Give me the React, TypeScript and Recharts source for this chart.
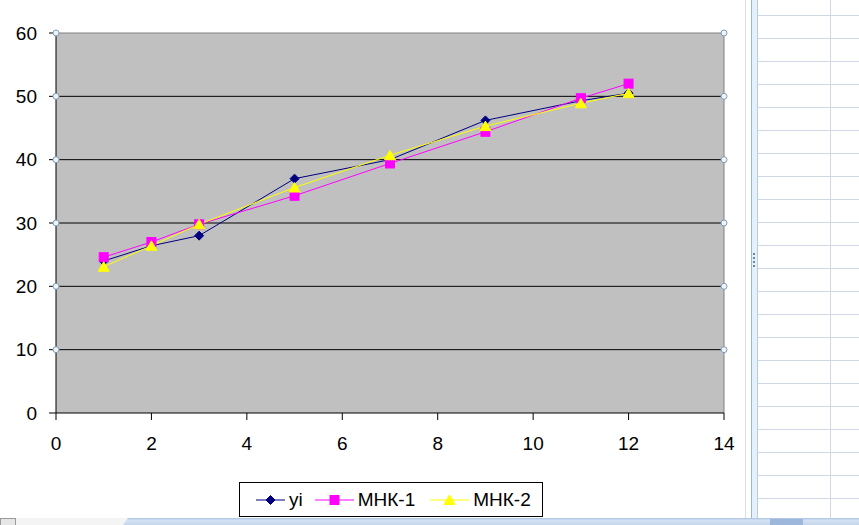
import { LineChart, Line, XAxis, YAxis, CartesianGrid, ReferenceLine, ReferenceDot } from "recharts";

const X_VALUES = [1, 2, 3, 5, 7, 9, 11, 12];
const YI = [24, 26.4, 28, 37, 40, 46.2, 49.3, 50.5];
const MNK1 = [24.6, 27, 29.8, 34.3, 39.4, 44.4, 49.7, 52];
const MNK2 = [23.1, 26.4, 29.8, 35.6, 40.7, 45.3, 48.9, 50.5];
const X_TICKS = [0, 2, 4, 6, 8, 10, 12, 14];
const Y_TICKS = [0, 10, 20, 30, 40, 50, 60];
const GRID_VALUES = [10, 20, 30, 40, 50];

const NAVY = "#000080";
const MAGENTA = "#FF00FF";
const YELLOW = "#FFFF00";
const FONT = "Arial, 'Liberation Sans', sans-serif";

const data = X_VALUES.map((x, i) => ({ x, yi: YI[i], m1: MNK1[i], m2: MNK2[i] }));

type Shape = "diamond" | "square" | "triangle";

function Marker({ cx, cy, shape, color }: { cx: number; cy: number; shape: Shape; color: string }) {
  if (shape === "diamond")
    return <path d={`M${cx},${cy - 4.5}L${cx + 4.5},${cy}L${cx},${cy + 4.5}L${cx - 4.5},${cy}Z`} fill={color} stroke={color} />;
  if (shape === "square")
    return <rect x={cx - 4.5} y={cy - 4.5} width={9} height={9} fill={color} stroke={color} />;
  return <path d={`M${cx},${cy - 5}L${cx + 5.5},${cy + 4.5}L${cx - 5.5},${cy + 4.5}Z`} fill={color} stroke={color} />;
}

const SERIES: { key: string; name: string; color: string; shape: Shape; lineW: number; gap: number }[] = [
  { key: "yi", name: "yi", color: NAVY, shape: "diamond", lineW: 29, gap: 12 },
  { key: "m1", name: "МНК-1", color: MAGENTA, shape: "square", lineW: 39, gap: 15 },
  { key: "m2", name: "МНК-2", color: YELLOW, shape: "triangle", lineW: 39, gap: 0 },
];

const SHEET_ROWS = Array.from({ length: 22 }, (_, k) => 15 + 23 * k);

function LegendBox() {
  return (
    <div style={{
      position: "absolute", left: 239, top: 482, width: 304, height: 35,
      border: "1px solid #000", background: "#fff", display: "flex", alignItems: "center",
      fontFamily: FONT, fontSize: 19, color: "#000", boxSizing: "border-box", paddingLeft: 16,
    }}>
      {SERIES.map((s) => (
        <div key={s.key} style={{ display: "flex", alignItems: "center", marginRight: s.gap }}>
          <svg width={s.lineW} height={12} style={{ marginRight: 4 }}>
            <line x1={0} y1={6} x2={s.lineW} y2={6} stroke={s.color} strokeWidth={1} />
            <Marker cx={s.lineW / 2} cy={6} shape={s.shape} color={s.color} />
          </svg>
          <span>{s.name}</span>
        </div>
      ))}
    </div>
  );
}

export default function App() {
  return (
    <div style={{ position: "absolute", left: 0, top: 0, width: 859, height: 525, background: "#fff", overflow: "hidden" }}>
      <LineChart width={745} height={518} data={data} margin={{ top: 33, right: 21, bottom: 0, left: 0 }}>
        <CartesianGrid vertical={false} horizontalValues={GRID_VALUES} stroke="#000" fill="#C0C0C0" fillOpacity={1} />
        <XAxis type="number" dataKey="x" domain={[0, 14]} ticks={X_TICKS} height={105}
          tick={{ fontSize: 19, fill: "#000", fontFamily: FONT }} tickSize={7} tickMargin={17}
          axisLine={{ stroke: "#000" }} tickLine={{ stroke: "#000" }} />
        <YAxis type="number" domain={[0, 60]} ticks={Y_TICKS} width={56}
          tick={{ fontSize: 19, fill: "#000", fontFamily: FONT }} tickSize={7} tickMargin={12}
          axisLine={{ stroke: "#000" }} tickLine={{ stroke: "#000" }} />
        <ReferenceLine y={60} stroke="#808080" />
        <ReferenceLine x={14} stroke="#808080" />
        {SERIES.map((s) => (
          <Line key={s.key} type="linear" dataKey={s.key} name={s.name} stroke={s.color} strokeWidth={1}
            isAnimationActive={false}
            dot={(p: any) => <Marker key={`${s.key}-${p.index}`} cx={p.cx} cy={p.cy} shape={s.shape} color={s.color} />} />
        ))}
        {[...GRID_VALUES, 60].flatMap((v) => [0, 14].map((x) => (
          <ReferenceDot key={`h-${x}-${v}`} x={x} y={v} r={3} fill="#eef3f8" stroke="#7f9db9" strokeWidth={1} ifOverflow="visible" />
        )))}
      </LineChart>
      <LegendBox />
      <svg width={114} height={525} style={{ position: "absolute", left: 745, top: 0 }}>
        <line x1={0.5} y1={0} x2={0.5} y2={525} stroke="#dcdcdc" />
        <rect x={6} y={0} width={6} height={525} fill="#e4f1fb" />
        <line x1={6.5} y1={0} x2={6.5} y2={525} stroke="#9ab7d3" />
        <line x1={12.5} y1={0} x2={12.5} y2={525} stroke="#b5cce2" />
        {SHEET_ROWS.map((y) => <line key={y} x1={13} y1={y + 0.5} x2={114} y2={y + 0.5} stroke="#d0d7e5" />)}
        <line x1={85.5} y1={0} x2={85.5} y2={525} stroke="#d0d7e5" />
        {[0, 1, 2, 3].map((k) => <rect key={k} x={8} y={253 + k * 4} width={2} height={2} fill="#6d87a8" />)}
      </svg>
      <svg width={859} height={7} style={{ position: "absolute", left: 0, top: 518 }}>
        <defs>
          <linearGradient id="tabBar" x1="0" y1="0" x2="0" y2="1">
            <stop offset="0%" stopColor="#a9c1e2" />
            <stop offset="30%" stopColor="#d5e2f3" />
            <stop offset="100%" stopColor="#c3d5ec" />
          </linearGradient>
        </defs>
        <rect x={0} y={0} width={859} height={7} fill="#f4f4f4" />
        <rect x={0.5} y={0.5} width={15} height={7} fill="#e6e6e6" stroke="#9a9a9a" />
        <path d="M123,7 L128,0 L859,0 L859,7 Z" fill="url(#tabBar)" />
        <rect x={770} y={1} width={33} height={6} fill="#9db6dc" />
      </svg>
    </div>
  );
}
